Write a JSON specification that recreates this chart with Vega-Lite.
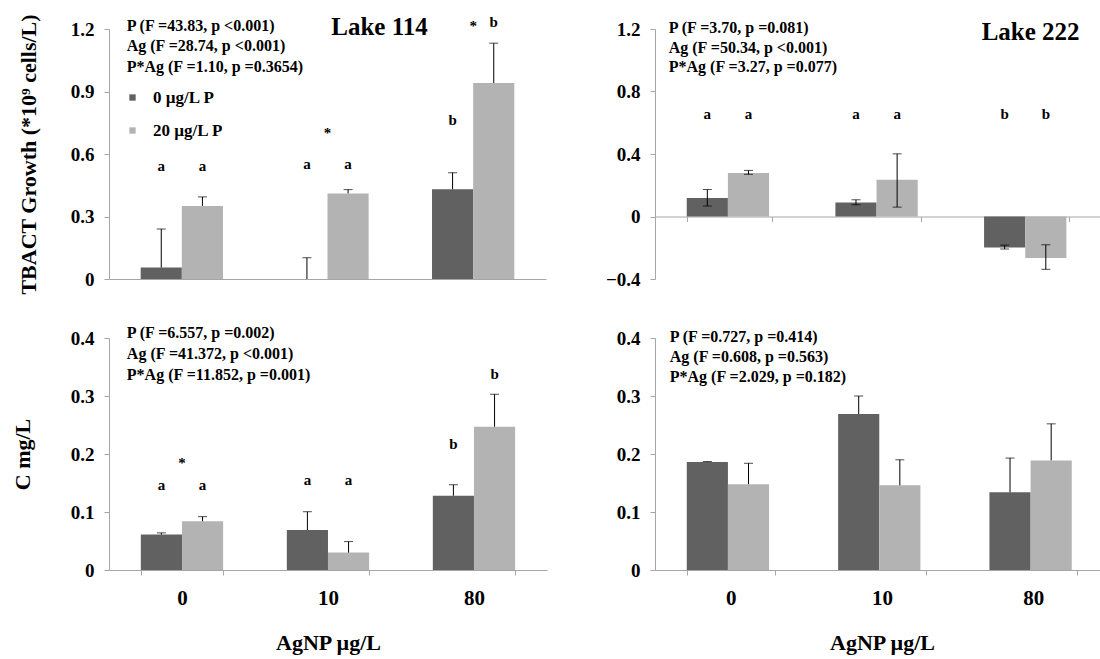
{
  "$schema": "https://vega.github.io/schema/vega-lite/v6.json",
  "background": "white",
  "padding": {"left": 11, "top": 13, "right": 0, "bottom": 3},
  "datasets": {
    "tl_bars": [
      {"g": "0", "s": "0 µg/L P", "v": 0.055, "lo": 0.055, "hi": 0.24},
      {"g": "0", "s": "20 µg/L P", "v": 0.351, "lo": 0.351, "hi": 0.394},
      {"g": "10", "s": "0 µg/L P", "v": 0, "lo": 0, "hi": 0.102},
      {"g": "10", "s": "20 µg/L P", "v": 0.411, "lo": 0.411, "hi": 0.429},
      {"g": "80", "s": "0 µg/L P", "v": 0.431, "lo": 0.431, "hi": 0.51},
      {"g": "80", "s": "20 µg/L P", "v": 0.941, "lo": 0.941, "hi": 1.132}
    ],
    "tl_letters": [
      {"g": "0", "s": "0 µg/L P", "lab": "a", "ly": 0.541},
      {"g": "0", "s": "20 µg/L P", "lab": "a", "ly": 0.541},
      {"g": "10", "s": "0 µg/L P", "lab": "a", "ly": 0.554},
      {"g": "10", "s": "20 µg/L P", "lab": "a", "ly": 0.554},
      {"g": "80", "s": "0 µg/L P", "lab": "b", "ly": 0.763},
      {"g": "80", "s": "20 µg/L P", "lab": "b", "ly": 1.236}
    ],
    "tl_stars": [
      {"g": "10", "ly": 0.7},
      {"g": "80", "ly": 1.215}
    ],
    "tl_stats": [
      {"g": "0", "t": "P (F =43.83, p <0.001)", "ty": 1.215},
      {"g": "0", "t": "Ag (F =28.74, p <0.001)", "ty": 1.118},
      {"g": "0", "t": "P*Ag (F =1.10, p =0.3654)", "ty": 1.02}
    ],
    "tl_title": [{"g": "10", "t": "Lake 114", "ty": 1.21}],
    "tr_bars": [
      {"g": "0", "s": "0 µg/L P", "v": 0.119, "lo": 0.067, "hi": 0.173},
      {"g": "0", "s": "20 µg/L P", "v": 0.278, "lo": 0.27, "hi": 0.295},
      {"g": "10", "s": "0 µg/L P", "v": 0.09, "lo": 0.075, "hi": 0.107},
      {"g": "10", "s": "20 µg/L P", "v": 0.236, "lo": 0.06, "hi": 0.401},
      {"g": "80", "s": "0 µg/L P", "v": -0.198, "lo": -0.208, "hi": -0.183},
      {"g": "80", "s": "20 µg/L P", "v": -0.265, "lo": -0.338, "hi": -0.181}
    ],
    "tr_letters": [
      {"g": "0", "s": "0 µg/L P", "lab": "a", "ly": 0.653},
      {"g": "0", "s": "20 µg/L P", "lab": "a", "ly": 0.653},
      {"g": "10", "s": "0 µg/L P", "lab": "a", "ly": 0.653},
      {"g": "10", "s": "20 µg/L P", "lab": "a", "ly": 0.653},
      {"g": "80", "s": "0 µg/L P", "lab": "b", "ly": 0.653},
      {"g": "80", "s": "20 µg/L P", "lab": "b", "ly": 0.653}
    ],
    "tr_stats": [
      {"g": "0", "t": "P (F =3.70, p =0.081)", "ty": 1.205},
      {"g": "0", "t": "Ag (F =50.34, p <0.001)", "ty": 1.078},
      {"g": "0", "t": "P*Ag (F =3.27, p =0.077)", "ty": 0.955}
    ],
    "tr_title": [{"g": "80", "t": "Lake 222", "ty": 1.178}],
    "bl_bars": [
      {"g": "0", "s": "0 µg/L P", "v": 0.061, "lo": 0.061, "hi": 0.064},
      {"g": "0", "s": "20 µg/L P", "v": 0.084, "lo": 0.084, "hi": 0.092},
      {"g": "10", "s": "0 µg/L P", "v": 0.069, "lo": 0.069, "hi": 0.1005},
      {"g": "10", "s": "20 µg/L P", "v": 0.03, "lo": 0.03, "hi": 0.049},
      {"g": "80", "s": "0 µg/L P", "v": 0.128, "lo": 0.128, "hi": 0.147},
      {"g": "80", "s": "20 µg/L P", "v": 0.247, "lo": 0.247, "hi": 0.303}
    ],
    "bl_letters": [
      {"g": "0", "s": "0 µg/L P", "lab": "a", "ly": 0.147},
      {"g": "0", "s": "20 µg/L P", "lab": "a", "ly": 0.147},
      {"g": "10", "s": "0 µg/L P", "lab": "a", "ly": 0.156},
      {"g": "10", "s": "20 µg/L P", "lab": "a", "ly": 0.156},
      {"g": "80", "s": "0 µg/L P", "lab": "b", "ly": 0.217},
      {"g": "80", "s": "20 µg/L P", "lab": "b", "ly": 0.338}
    ],
    "bl_stars": [{"g": "0", "ly": 0.184}],
    "bl_stats": [
      {"g": "0", "t": "P (F =6.557, p =0.002)", "ty": 0.409},
      {"g": "0", "t": "Ag (F =41.372, p <0.001)", "ty": 0.373},
      {"g": "0", "t": "P*Ag (F =11.852, p =0.001)", "ty": 0.336}
    ],
    "br_bars": [
      {"g": "0", "s": "0 µg/L P", "v": 0.186, "lo": 0.186, "hi": 0.187},
      {"g": "0", "s": "20 µg/L P", "v": 0.148, "lo": 0.148, "hi": 0.184},
      {"g": "10", "s": "0 µg/L P", "v": 0.269, "lo": 0.269, "hi": 0.3},
      {"g": "10", "s": "20 µg/L P", "v": 0.146, "lo": 0.146, "hi": 0.19},
      {"g": "80", "s": "0 µg/L P", "v": 0.134, "lo": 0.134, "hi": 0.193},
      {"g": "80", "s": "20 µg/L P", "v": 0.189, "lo": 0.189, "hi": 0.252}
    ],
    "br_stats": [
      {"g": "0", "t": "P (F =0.727, p =0.414)", "ty": 0.402},
      {"g": "0", "t": "Ag (F =0.608, p =0.563)", "ty": 0.368},
      {"g": "0", "t": "P*Ag (F =2.029, p =0.182)", "ty": 0.332}
    ]
  },
  "columns": 2,
  "align": "each",
  "bounds": "flush",
  "spacing": {"row": 59, "column": 108},
  "resolve": {"legend": {"color": "independent"}},
  "concat": [
    {
      "width": 437,
      "height": 250,
      "layer": [
        {
          "data": {"name": "tl_bars"},
          "mark": {"type": "bar"},
          "encoding": {
            "x": {"field": "g", "type": "nominal", "sort": ["0", "10", "80"], "scale": {"domain": ["0", "10", "80"], "paddingInner": 0.435, "paddingOuter": 0.2175}, "axis": {"title": null, "labels": false, "ticks": false}},
            "xOffset": {"field": "s", "type": "nominal", "scale": {"domain": ["0 µg/L P", "20 µg/L P"]}},
            "y": {"field": "v", "type": "quantitative", "scale": {"domain": [0, 1.2], "nice": false, "zero": false}, "axis": {"values": [0, 0.3, 0.6, 0.9, 1.2], "format": "~g", "title": "TBACT Growth (*10⁹ cells/L)", "titlePadding": 30}},
            "color": {"field": "s", "type": "nominal", "scale": {"domain": ["0 µg/L P", "20 µg/L P"], "range": ["#616161", "#b3b3b3"]}, "legend": {"title": null, "orient": "none", "legendX": 15, "legendY": 60, "symbolType": "square", "symbolSize": 40, "symbolStrokeWidth": 0, "labelFont": "Liberation Serif", "labelFontWeight": "bold", "labelFontSize": 17, "labelColor": "#000", "labelOffset": 12, "rowPadding": 15}}
          }
        },
        {
          "data": {"name": "tl_bars"},
          "mark": {"type": "rule", "color": "#000", "strokeWidth": 1},
          "encoding": {"x": {"field": "g", "type": "nominal"}, "xOffset": {"field": "s", "type": "nominal"}, "y": {"field": "lo", "type": "quantitative"}, "y2": {"field": "hi"}}
        },
        {
          "data": {"name": "tl_bars"},
          "mark": {"type": "tick", "color": "#000", "thickness": 1, "size": 9, "orient": "horizontal"},
          "encoding": {"x": {"field": "g", "type": "nominal"}, "xOffset": {"field": "s", "type": "nominal"}, "y": {"field": "hi", "type": "quantitative"}}
        },
        {
          "data": {"name": "tl_letters"},
          "mark": {"type": "text", "font": "Liberation Serif", "fontWeight": "bold", "fontSize": 15, "baseline": "middle"},
          "encoding": {"x": {"field": "g", "type": "nominal"}, "xOffset": {"field": "s", "type": "nominal"}, "y": {"field": "ly", "type": "quantitative"}, "text": {"field": "lab"}}
        },
        {
          "data": {"name": "tl_stars"},
          "mark": {"type": "text", "font": "Liberation Serif", "fontWeight": "bold", "fontSize": 15, "baseline": "middle", "text": "*"},
          "encoding": {"x": {"field": "g", "type": "nominal"}, "y": {"field": "ly", "type": "quantitative"}}
        },
        {
          "data": {"name": "tl_stats"},
          "mark": {"type": "text", "font": "Liberation Serif", "fontWeight": "bold", "fontSize": 16, "baseline": "middle", "align": "left", "dx": -14},
          "encoding": {"x": {"field": "g", "type": "nominal", "bandPosition": 0}, "y": {"field": "ty", "type": "quantitative"}, "text": {"field": "t"}}
        },
        {
          "data": {"name": "tl_title"},
          "mark": {"type": "text", "font": "Liberation Serif", "fontWeight": "bold", "fontSize": 25, "baseline": "middle", "align": "center", "dx": 52},
          "encoding": {"x": {"field": "g", "type": "nominal"}, "y": {"field": "ty", "type": "quantitative"}, "text": {"field": "t"}}
        }
      ]
    },
    {
      "width": 446,
      "height": 250,
      "layer": [
        {
          "data": {"name": "tr_bars"},
          "mark": {"type": "bar"},
          "encoding": {
            "x": {"field": "g", "type": "nominal", "sort": ["0", "10", "80"], "scale": {"domain": ["0", "10", "80"], "paddingInner": 0.427, "paddingOuter": 0.2135}, "axis": {"title": null, "labels": false, "ticks": true, "tickBand": "extent", "offset": -62.5}},
            "xOffset": {"field": "s", "type": "nominal", "scale": {"domain": ["0 µg/L P", "20 µg/L P"]}},
            "y": {"field": "v", "type": "quantitative", "scale": {"domain": [-0.4, 1.2], "nice": false, "zero": false}, "axis": {"values": [-0.4, 0, 0.4, 0.8, 1.2], "format": "~g", "title": null}},
            "color": {"field": "s", "type": "nominal", "legend": null}
          }
        },
        {
          "data": {"name": "tr_bars"},
          "mark": {"type": "rule", "color": "#000", "strokeWidth": 1},
          "encoding": {"x": {"field": "g", "type": "nominal"}, "xOffset": {"field": "s", "type": "nominal"}, "y": {"field": "lo", "type": "quantitative"}, "y2": {"field": "hi"}}
        },
        {
          "data": {"name": "tr_bars"},
          "mark": {"type": "tick", "color": "#000", "thickness": 1, "size": 9, "orient": "horizontal"},
          "encoding": {"x": {"field": "g", "type": "nominal"}, "xOffset": {"field": "s", "type": "nominal"}, "y": {"field": "hi", "type": "quantitative"}}
        },
        {
          "data": {"name": "tr_bars"},
          "mark": {"type": "tick", "color": "#000", "thickness": 1, "size": 9, "orient": "horizontal"},
          "encoding": {"x": {"field": "g", "type": "nominal"}, "xOffset": {"field": "s", "type": "nominal"}, "y": {"field": "lo", "type": "quantitative"}}
        },
        {
          "data": {"name": "tr_letters"},
          "mark": {"type": "text", "font": "Liberation Serif", "fontWeight": "bold", "fontSize": 15, "baseline": "middle"},
          "encoding": {"x": {"field": "g", "type": "nominal"}, "xOffset": {"field": "s", "type": "nominal"}, "y": {"field": "ly", "type": "quantitative"}, "text": {"field": "lab"}}
        },
        {
          "data": {"name": "tr_stats"},
          "mark": {"type": "text", "font": "Liberation Serif", "fontWeight": "bold", "fontSize": 16, "baseline": "middle", "align": "left", "dx": -18},
          "encoding": {"x": {"field": "g", "type": "nominal", "bandPosition": 0}, "y": {"field": "ty", "type": "quantitative"}, "text": {"field": "t"}}
        },
        {
          "data": {"name": "tr_title"},
          "mark": {"type": "text", "font": "Liberation Serif", "fontWeight": "bold", "fontSize": 25, "baseline": "middle", "align": "center", "dx": 4},
          "encoding": {"x": {"field": "g", "type": "nominal"}, "y": {"field": "ty", "type": "quantitative"}, "text": {"field": "t"}}
        }
      ]
    },
    {
      "width": 438,
      "height": 232,
      "layer": [
        {
          "data": {"name": "bl_bars"},
          "mark": {"type": "bar"},
          "encoding": {
            "x": {"field": "g", "type": "nominal", "sort": ["0", "10", "80"], "scale": {"domain": ["0", "10", "80"], "paddingInner": 0.436, "paddingOuter": 0.218}, "axis": {"title": "AgNP µg/L", "labels": true, "ticks": true, "tickBand": "extent"}},
            "xOffset": {"field": "s", "type": "nominal", "scale": {"domain": ["0 µg/L P", "20 µg/L P"]}},
            "y": {"field": "v", "type": "quantitative", "scale": {"domain": [0, 0.4], "nice": false, "zero": false}, "axis": {"values": [0, 0.1, 0.2, 0.3, 0.4], "format": "~g", "title": "C mg/L", "titlePadding": 36}},
            "color": {"field": "s", "type": "nominal", "legend": null}
          }
        },
        {
          "data": {"name": "bl_bars"},
          "mark": {"type": "rule", "color": "#000", "strokeWidth": 1},
          "encoding": {"x": {"field": "g", "type": "nominal"}, "xOffset": {"field": "s", "type": "nominal"}, "y": {"field": "lo", "type": "quantitative"}, "y2": {"field": "hi"}}
        },
        {
          "data": {"name": "bl_bars"},
          "mark": {"type": "tick", "color": "#000", "thickness": 1, "size": 9, "orient": "horizontal"},
          "encoding": {"x": {"field": "g", "type": "nominal"}, "xOffset": {"field": "s", "type": "nominal"}, "y": {"field": "hi", "type": "quantitative"}}
        },
        {
          "data": {"name": "bl_letters"},
          "mark": {"type": "text", "font": "Liberation Serif", "fontWeight": "bold", "fontSize": 15, "baseline": "middle"},
          "encoding": {"x": {"field": "g", "type": "nominal"}, "xOffset": {"field": "s", "type": "nominal"}, "y": {"field": "ly", "type": "quantitative"}, "text": {"field": "lab"}}
        },
        {
          "data": {"name": "bl_stars"},
          "mark": {"type": "text", "font": "Liberation Serif", "fontWeight": "bold", "fontSize": 15, "baseline": "middle", "text": "*"},
          "encoding": {"x": {"field": "g", "type": "nominal"}, "y": {"field": "ly", "type": "quantitative"}}
        },
        {
          "data": {"name": "bl_stats"},
          "mark": {"type": "text", "font": "Liberation Serif", "fontWeight": "bold", "fontSize": 16, "baseline": "middle", "align": "left", "dx": -14},
          "encoding": {"x": {"field": "g", "type": "nominal", "bandPosition": 0}, "y": {"field": "ty", "type": "quantitative"}, "text": {"field": "t"}}
        }
      ]
    },
    {
      "width": 454,
      "height": 232,
      "layer": [
        {
          "data": {"name": "br_bars"},
          "mark": {"type": "bar"},
          "encoding": {
            "x": {"field": "g", "type": "nominal", "sort": ["0", "10", "80"], "scale": {"domain": ["0", "10", "80"], "paddingInner": 0.42, "paddingOuter": 0.21}, "axis": {"title": "AgNP µg/L", "labels": true, "ticks": true, "tickBand": "extent"}},
            "xOffset": {"field": "s", "type": "nominal", "scale": {"domain": ["0 µg/L P", "20 µg/L P"]}},
            "y": {"field": "v", "type": "quantitative", "scale": {"domain": [0, 0.4], "nice": false, "zero": false}, "axis": {"values": [0, 0.1, 0.2, 0.3, 0.4], "format": "~g", "title": null}},
            "color": {"field": "s", "type": "nominal", "legend": null}
          }
        },
        {
          "data": {"name": "br_bars"},
          "mark": {"type": "rule", "color": "#000", "strokeWidth": 1},
          "encoding": {"x": {"field": "g", "type": "nominal"}, "xOffset": {"field": "s", "type": "nominal"}, "y": {"field": "lo", "type": "quantitative"}, "y2": {"field": "hi"}}
        },
        {
          "data": {"name": "br_bars"},
          "mark": {"type": "tick", "color": "#000", "thickness": 1, "size": 9, "orient": "horizontal"},
          "encoding": {"x": {"field": "g", "type": "nominal"}, "xOffset": {"field": "s", "type": "nominal"}, "y": {"field": "hi", "type": "quantitative"}}
        },
        {
          "data": {"name": "br_stats"},
          "mark": {"type": "text", "font": "Liberation Serif", "fontWeight": "bold", "fontSize": 16, "baseline": "middle", "align": "left", "dx": -17},
          "encoding": {"x": {"field": "g", "type": "nominal", "bandPosition": 0}, "y": {"field": "ty", "type": "quantitative"}, "text": {"field": "t"}}
        }
      ]
    }
  ],
  "config": {
    "view": {"stroke": null},
    "font": "Liberation Serif",
    "axis": {"labelFont": "Liberation Serif", "labelFontWeight": "bold", "labelColor": "#000", "titleFont": "Liberation Serif", "titleFontWeight": "bold", "titleColor": "#000", "domainColor": "#a6a6a6", "tickColor": "#a6a6a6", "grid": false, "tickSize": 5, "labelPadding": 10},
    "axisY": {"labelFontSize": 19, "titleFontSize": 22},
    "axisX": {"labelFontSize": 21, "titleFontSize": 22, "titlePadding": 24, "labelPadding": 12, "labelAngle": 0}
  }
}
